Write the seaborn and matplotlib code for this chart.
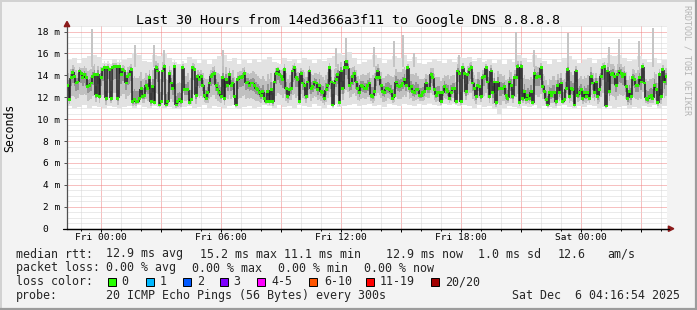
import numpy as np
import pandas as pd
import matplotlib
matplotlib.use("Agg")
import matplotlib.pyplot as plt
import matplotlib.transforms as mtransforms
from matplotlib.patches import Rectangle, Polygon
from matplotlib.lines import Line2D
import seaborn as sns

# ------------------------------------------------------------------ data
step_minutes = 5
window_hours = 30
first_tick_hour = 1.7183   # Fri 00:00 relative to window start (Thu 22:16:54)

median_ms_part1 = [
    13.1, 11.8, 13.8, 14.3, 13.9, 13.3, 13.4, 14.4, 14.2, 13.8,
    14.1, 13.8, 13.0, 13.1, 13.3, 13.9, 14.1, 12.2, 14.1, 12.1,
    13.8, 14.5, 14.7, 11.9, 14.7, 14.5, 11.9, 14.7, 14.8, 14.8,
    11.9, 14.8, 14.1, 14.5, 14.4, 13.3, 13.9, 14.1, 14.5, 11.6,
    11.8, 11.6, 11.6, 11.9, 12.8, 12.1, 12.2, 13.1, 12.8, 13.8,
    11.6, 13.0, 11.5, 14.7, 14.4, 11.3, 11.6, 14.4, 14.8, 11.3,
    11.6, 14.2, 13.3, 12.8, 14.8, 11.3, 11.6, 11.8, 11.6, 14.7,
    12.7, 12.7, 12.7, 11.5, 11.8, 14.7, 14.5, 12.2, 13.9, 13.6,
    13.9, 13.1, 12.2, 11.9, 12.4, 13.3, 13.9, 14.1, 14.2, 13.1,
    12.7, 12.4, 12.1, 13.8, 11.9, 13.6, 13.1, 14.1, 13.1, 13.3,
    12.1, 11.3, 13.6, 13.8, 13.8, 13.9, 14.2, 13.3, 13.4, 13.1,
    13.3, 13.3, 13.1, 12.8, 12.7, 12.4, 12.2, 12.5, 11.9, 11.6,
]
median_ms_part2 = [
    12.5, 11.6, 12.7, 11.6, 13.4, 14.2, 14.5, 14.1, 13.9, 13.6,
    14.5, 12.8, 12.1, 12.7, 12.8, 14.4, 14.7, 13.8, 13.6, 11.6,
    14.2, 13.3, 13.1, 12.1, 13.4, 14.4, 12.8, 13.0, 13.4, 13.3,
    12.7, 13.1, 12.5, 12.4, 11.9, 12.7, 13.1, 14.7, 13.4, 11.3,
    13.3, 13.6, 14.1, 11.5, 14.4, 12.8, 14.7, 15.3, 14.7, 13.1,
    13.3, 13.9, 14.2, 13.4, 12.8, 12.4, 13.1, 13.0, 12.8, 12.8,
    13.1, 13.3, 12.2, 12.1, 12.5, 13.8, 14.4, 13.8, 13.1, 12.5,
    12.4, 12.8, 12.8, 12.7, 12.5, 11.9, 12.2, 13.4, 13.1, 13.0,
    13.1, 13.3, 13.6, 13.1, 14.7, 12.8, 13.0, 12.5, 12.4, 12.7,
    12.7, 12.2, 12.2, 12.4, 12.5, 13.3, 12.8, 12.8, 14.1, 13.8,
    12.7, 12.2, 12.4, 12.4, 11.6, 12.4, 13.0, 12.7, 12.5, 11.9,
    12.4, 12.8, 12.8, 11.6, 14.4, 14.2, 11.6, 14.7, 14.2, 12.5,
]
median_ms_part3 = [
    14.1, 14.5, 14.7, 13.3, 12.8, 12.1, 13.1, 13.0, 12.1, 13.8,
    13.9, 14.7, 13.4, 12.1, 14.4, 12.4, 13.4, 11.5, 13.4, 12.8,
    12.8, 12.8, 13.0, 12.2, 11.9, 13.4, 13.1, 12.1, 13.8, 13.8,
    14.8, 11.5, 14.8, 11.9, 12.5, 11.8, 12.2, 11.9, 12.5, 11.5,
    14.2, 13.8, 13.9, 13.9, 14.7, 13.0, 12.5, 11.8, 11.3, 12.4,
    12.2, 12.4, 12.4, 11.6, 13.1, 12.4, 13.3, 11.6, 11.8, 12.8,
    14.5, 12.1, 12.8, 12.7, 11.3, 14.4, 12.2, 12.4, 12.7, 11.9,
    12.4, 12.1, 12.4, 11.9, 13.9, 13.3, 12.4, 13.4, 12.1, 12.7,
    13.9, 14.7, 14.8, 11.2, 14.4, 12.5, 14.1, 14.2, 13.9, 13.1,
    14.1, 14.4, 14.2, 13.9, 14.1, 13.0, 11.9, 12.5, 12.1, 13.8,
    13.6, 13.1, 13.1, 13.8, 13.4, 14.8, 13.3, 11.9, 11.8, 12.1,
    12.2, 11.9, 13.1, 12.7, 11.5, 14.1, 12.1, 14.5, 13.4, 13.9,
]

# smoke envelope, one value per 15 minutes
smoke_low_ms = [
    11.2, 11.0, 11.1, 11.3, 11.0, 11.2, 11.1, 11.0, 11.2, 11.1,
    11.0, 11.1, 11.2, 11.0, 11.3, 11.1, 11.0, 11.2, 11.1, 11.0,
    11.1, 10.9, 10.9, 11.1, 11.2, 11.0, 11.1, 11.3, 11.0, 11.2,
    11.1, 11.0, 11.2, 11.3, 10.9, 11.1, 11.2, 11.0, 11.1, 11.3,
    11.2, 11.0, 11.3, 11.1, 11.2, 11.0, 11.3, 11.2, 11.1, 11.4,
    11.2, 11.0, 11.3, 11.4, 11.1, 11.2, 11.3, 11.4, 11.2, 11.3,
    11.4, 11.2, 11.3, 11.1, 11.4, 11.3, 11.2, 11.4, 11.3, 11.2,
    11.4, 11.3, 11.5, 11.3, 11.2, 11.4, 11.3, 11.5, 11.2, 11.3,
    11.2, 11.0, 11.3, 11.1, 11.2, 10.9, 10.5, 11.0, 11.2, 11.1,
    11.0, 11.2, 11.1, 11.3, 11.0, 11.2, 11.1, 11.0, 11.2, 11.3,
    11.1, 11.0, 11.2, 11.1, 11.3, 11.2, 11.0, 11.1, 11.2, 11.0,
    11.1, 11.2, 10.9, 11.1, 11.0, 11.2, 11.1, 11.3, 11.0, 11.2,
]
smoke_high_ms = [
    15.4, 15.6, 15.1, 15.6, 15.8, 15.9, 15.7, 15.1, 15.0, 15.5,
    15.2, 15.4, 15.6, 16.0, 15.9, 15.3, 15.2, 15.9, 15.8, 16.0,
    15.6, 15.2, 15.0, 15.1, 15.7, 15.5, 15.1, 15.4, 15.0, 15.5,
    15.8, 15.9, 15.3, 15.6, 15.0, 15.4, 15.1, 15.5, 15.2, 15.4,
    15.7, 15.2, 15.0, 15.6, 15.3, 15.5, 15.1, 15.6, 15.4, 15.1,
    15.5, 15.3, 15.6, 15.8, 16.0, 15.9, 16.1, 15.6, 15.0, 15.2,
    15.4, 15.9, 15.6, 15.1, 15.4, 15.8, 15.6, 15.9, 15.3, 15.7,
    15.1, 15.0, 15.2, 15.5, 15.3, 15.1, 15.5, 15.2, 15.7, 15.6,
    15.7, 15.3, 15.6, 15.2, 15.5, 15.1, 15.4, 15.0, 15.5, 15.2,
    15.9, 15.6, 15.2, 15.9, 15.6, 15.3, 15.0, 15.5, 15.2, 15.6,
    15.8, 15.4, 15.1, 15.4, 15.6, 15.1, 15.5, 15.6, 15.9, 15.8,
    15.9, 15.6, 15.3, 15.4, 15.8, 15.5, 15.2, 15.6, 15.1, 15.4,
]
spike_hours = [1.25, 3.4, 4.35, 4.85, 7.8, 13.45, 13.95, 15.35, 16.35, 16.8,
               17.35, 19.6, 22.45, 23.35, 25.05, 27.1, 27.6, 28.6, 29.3]
spike_top_ms = [18.2, 16.8, 16.8, 16.3, 16.3, 16.5, 17.4, 16.6, 17.1, 17.7,
                16.0, 15.9, 18.0, 16.3, 17.9, 16.6, 17.3, 17.1, 18.3]

y_ticks = [0, 2, 4, 6, 8, 10, 12, 14, 16, 18]
y_tick_labels = ["0  ", "2 m", "4 m", "6 m", "8 m", "10 m", "12 m", "14 m", "16 m", "18 m"]
x_tick_labels = ["Fri 00:00", "", "Fri 06:00", "", "Fri 12:00", "", "Fri 18:00", "",
                 "Sat 00:00", ""]

title = "Last 30 Hours from 14ed366a3f11 to Google DNS 8.8.8.8"
rtt_items = ["median rtt:", "12.9 ms avg", "15.2 ms max", "11.1 ms min",
             "12.9 ms now", "1.0 ms sd", "12.6", "am/s"]
loss_items = ["packet loss:", "0.00 % avg", "0.00 % max", "0.00 % min", "0.00 % now"]
loss_labels = ["0", "1", "2", "3", "4-5", "6-10", "11-19", "20/20"]
loss_colors = ["#26ff00", "#00b8ff", "#0059ff", "#7e00ff", "#ff00ff",
               "#ff5500", "#ff0000", "#a10000"]
probe_items = ["probe:", "20 ICMP Echo Pings (56 Bytes) every 300s",
               "Sat Dec  6 04:16:54 2025"]

# ------------------------------------------------------------------ style
W, H = 697, 310
sns.set_theme(style="white")
plt.rcParams["font.family"] = ["DejaVu Sans Mono"]
MONO = "DejaVu Sans Mono"

fig = plt.figure(figsize=(W / 100, H / 100), dpi=100, facecolor="#f3f3f3")
pix = mtransforms.Affine2D().scale(1 / W, -1 / H).translate(0, 1) + fig.transFigure

X0, X1, Y0, YT = 67, 667, 228.7, 26.1
ax = fig.add_axes([X0 / W, 1 - Y0 / H, (X1 - X0) / W, (Y0 - YT) / H])
ax.set_facecolor("white")

med = np.array(median_ms_part1 + median_ms_part2 + median_ms_part3)
n = len(med)
t = (np.arange(n) + 0.5) * step_minutes / 60.0
lo = np.repeat(np.array(smoke_low_ms), 3)[:n]
hi = np.repeat(np.array(smoke_high_ms), 3)[:n]
lo = np.minimum(lo, med - 0.3)
hi = np.maximum(hi, med + 0.6)
bw = step_minutes / 60.0

# smoke layers (lighter far from the median, darker close to it)
ax.bar(t, hi - lo, bottom=lo, width=bw, color="#e2e2e2", linewidth=0, zorder=2)
l2 = med - 0.65 * (med - lo)
h2 = med + 0.5 * (hi - med)
ax.bar(t, h2 - l2, bottom=l2, width=bw, color="#c0c0c0", linewidth=0, zorder=2.1)
l3 = med - 0.3 * (med - lo)
h3 = med + 0.22 * (hi - med)
ax.bar(t, h3 - l3, bottom=l3, width=bw, color="#939393", linewidth=0, zorder=2.2)
ax.vlines(spike_hours, 14.8, spike_top_ms, colors="#c4c4c4", linewidth=1.4, zorder=2.05)

# median: dark connectors where it jumps, green dot per step on top
edges = t[:-1] + bw / 2
ax.vlines(edges, med[:-1], med[1:], colors="#1e1e1e", linewidth=1.1, zorder=3)
df = pd.DataFrame({"hours": t, "median": med})
sns.scatterplot(data=df, x="hours", y="median", ax=ax, marker="s", s=4.2,
                color="#2bf000", edgecolor="none", linewidth=0, legend=False, zorder=4)

ax.set_xlim(0, window_hours)
ax.set_ylim(0, 18.5)
ax.set_xlabel("")
ax.set_ylabel("")

# grid
major_x = [first_tick_hour + 3 * k for k in range(10)]
minor_x = [first_tick_hour - 1 + k for k in range(31) if first_tick_hour - 1 + k < window_hours]
ax.set_xticks(major_x)
ax.set_xticklabels(x_tick_labels)
ax.set_xticks(minor_x, minor=True)
ax.set_yticks(y_ticks)
ax.set_yticklabels(y_tick_labels)
ax.set_yticks(np.arange(0, 18.51, 0.5), minor=True)
ax.set_axisbelow(True)
ax.grid(which="minor", color="#d6d6d6", linestyle=(0, (1, 1)), linewidth=0.72, zorder=0)
ax.grid(which="major", color="#f08282", linestyle=(0, (1, 1)), linewidth=0.72, zorder=0.5)

for s in ["top", "right"]:
    ax.spines[s].set_visible(False)
ax.spines["left"].set_color("#505050")
ax.spines["left"].set_linewidth(0.9)
ax.spines["bottom"].set_color("#000000")
ax.spines["bottom"].set_linewidth(0.9)

ax.tick_params(axis="y", which="major", length=2.2, width=0.7, color="#505050",
               pad=2.8, labelsize=6.8, labelcolor="#000000", left=True)
ax.tick_params(axis="y", which="minor", length=0)
ax.tick_params(axis="x", which="major", length=2.2, width=0.7, color="#000000",
               pad=1.2, labelsize=6.8, labelcolor="#000000", bottom=True)
ax.tick_params(axis="x", which="minor", length=1.2, width=0.7, color="#000000", bottom=True)
for lab in ax.get_xticklabels() + ax.get_yticklabels():
    lab.set_fontfamily(MONO)

# axis extensions and arrows
fig.add_artist(Line2D([63, 669], [Y0, Y0], color="#000000", lw=0.9, transform=pix))
fig.add_artist(Polygon([[64.2, 26.6], [69.8, 26.6], [67, 21.4]], closed=True,
                       color="#8b1a1a", transform=pix))
fig.add_artist(Polygon([[668.4, 226.0], [668.4, 231.4], [673.8, 228.7]], closed=True,
                       color="#8b1a1a", transform=pix))

# frame
fig.add_artist(Line2D([0, W], [0.8, 0.8], color="#d2d2d2", lw=1.4, transform=pix))
fig.add_artist(Line2D([0.8, 0.8], [0, H], color="#d2d2d2", lw=1.4, transform=pix))
fig.add_artist(Line2D([0, W], [308.6, 308.6], color="#9c9c9c", lw=1.6, transform=pix))
fig.add_artist(Line2D([695.6, 695.6], [0, H], color="#9c9c9c", lw=1.6, transform=pix))

# texts
fig.text(348.5, 24, title, transform=pix, ha="center", va="baseline",
         fontsize=9.6, family=MONO, color="#000000")
fig.text(10, 128, "Seconds", transform=pix, ha="center", va="center", rotation=90,
         fontsize=8.3, family=MONO, color="#000000")
fig.text(687.5, 60, "RRDTOOL / TOBI OETIKER", transform=pix, ha="center", va="center",
         rotation=270, fontsize=6.0, family=MONO, color="#b4b4b4")

LEG = 8.4
row_base = [257.5, 271.5, 285.4, 299.3]
for txt, x in zip(rtt_items, [15.5, 106.5, 199.5, 284.5, 385.5, 478.5, 557.5, 607.5]):
    fig.text(x, row_base[0], txt, transform=pix, ha="left", va="baseline",
             fontsize=LEG, family=MONO)
for txt, x in zip(loss_items, [15.5, 106.5, 192.5, 278.5, 364.5]):
    fig.text(x, row_base[1], txt, transform=pix, ha="left", va="baseline",
             fontsize=LEG, family=MONO)
fig.text(15.5, row_base[2], "loss color:", transform=pix, ha="left", va="baseline",
         fontsize=LEG, family=MONO)
box_x = [108, 146, 182.5, 219.5, 257, 308.5, 366, 431]
lab_x = [121.5, 159.5, 197.5, 233.5, 271.5, 324, 379.5, 445]
for c, lab, bx, lx in zip(loss_colors, loss_labels, box_x, lab_x):
    fig.add_artist(Rectangle((bx, 277.5), 8, 8, facecolor=c, edgecolor="#000000",
                             linewidth=0.7, transform=pix))
    fig.text(lx, row_base[2], lab, transform=pix, ha="left", va="baseline",
             fontsize=LEG, family=MONO)
for txt, x in zip(probe_items, [15.5, 106.5, 512.5]):
    fig.text(x, row_base[3], txt, transform=pix, ha="left", va="baseline",
             fontsize=LEG, family=MONO)

fig.savefig("out.png", dpi=100, facecolor=fig.get_facecolor())
